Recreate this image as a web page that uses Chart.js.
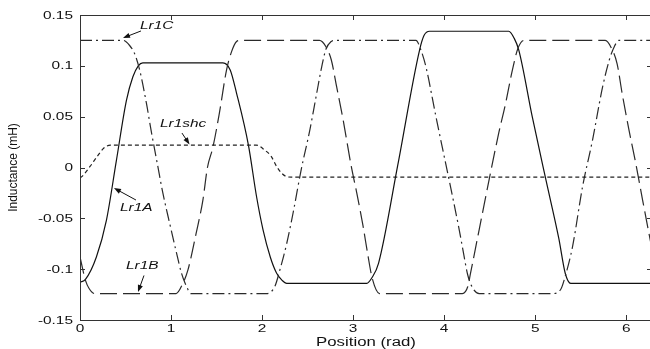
<!DOCTYPE html>
<html>
<head>
<meta charset="utf-8">
<title>Inductance vs position</title>
<script src="https://cdn.jsdelivr.net/npm/chart.js@4.4.1/dist/chart.umd.min.js"></script>
<style>
    html, body { margin: 0; padding: 0; background: #fff; overflow: hidden; }
    #wrap { position: absolute; left: 0; top: 0; width: 656px; height: 349px; }
</style>
</head>
<body>
<div id="wrap"><canvas id="chart" width="656" height="349"></canvas></div>
<script>
// Phase A inductance (solid)
const aX = [0, 0.06, 0.18, 0.29, 0.40, 0.51, 0.58, 0.64, 0.69, 1.57, 1.65, 1.72, 1.85, 1.94, 2.01, 2.09, 2.16, 2.22, 2.27,
    3.15, 3.21, 3.28, 3.49, 3.73, 3.78, 3.84, 4.71, 4.77, 4.82, 4.97, 5.12, 5.26, 5.33, 5.39, 6.2832];
const aY = [-0.113, -0.110, -0.088, -0.052, 0.007, 0.066, 0.089, 0.100, 0.103, 0.103, 0.096, 0.073, 0.022, -0.029, -0.061, -0.088, -0.104, -0.111, -0.114,
    -0.114, -0.108, -0.094, 0.002, 0.1155, 0.130, 0.134, 0.134, 0.127, 0.1155, 0.049, -0.013, -0.070, -0.104, -0.114, -0.114];

// Phase B inductance (dashed)
const bX = [0, 0.06, 0.10, 0.16, 1.055, 1.13, 1.185, 1.275, 1.35, 1.40, 1.46, 1.53, 1.61, 1.665, 1.72, 1.76,
    2.63, 2.70, 2.76, 2.82, 2.89, 2.98, 3.04, 3.11, 3.16, 3.21, 3.29, 4.20, 4.26, 4.29, 4.385, 4.60, 4.675, 4.75, 4.81, 4.875,
    5.77, 5.84, 5.90, 5.955, 6.03, 6.105, 6.18, 6.25, 6.2832];
const bY = [-0.088, -0.111, -0.119, -0.124, -0.124, -0.114, -0.101, -0.065, -0.032, 0.000, 0.020, 0.053, 0.096, 0.114, 0.124, 0.125,
    0.125, 0.119, 0.106, 0.079, 0.047, 0.001, -0.025, -0.058, -0.085, -0.109, -0.124, -0.124, -0.117, -0.104, -0.061, 0.034, 0.063, 0.096, 0.117, 0.125,
    0.125, 0.117, 0.102, 0.073, 0.037, 0.004, -0.032, -0.065, -0.080];

// Phase C inductance (dash-dot)
const cX = [0, 0.475, 0.545, 0.60, 0.655, 0.73, 0.78, 0.855, 0.91, 0.985, 1.06, 1.115, 1.17, 1.22,
    2.05, 2.14, 2.195, 2.27, 2.34, 2.43, 2.525, 2.60, 2.655, 2.70, 2.76, 2.80, 3.69, 3.745, 3.80, 3.91, 4.165, 4.20, 4.26, 4.31, 4.385,
    5.19, 5.28, 5.33, 5.41, 5.52, 5.63, 5.74, 5.815, 5.87, 5.92, 6.2832];
const cY = [0.125, 0.125, 0.120, 0.112, 0.096, 0.063, 0.037, 0.001, -0.025, -0.055, -0.084, -0.104, -0.117, -0.124,
    -0.124, -0.117, -0.101, -0.075, -0.045, -0.002, 0.037, 0.073, 0.099, 0.116, 0.124, 0.125, 0.125, 0.1155, 0.099, 0.050, -0.061, -0.078, -0.106, -0.118, -0.124,
    -0.124, -0.120, -0.107, -0.078, -0.019, 0.027, 0.079, 0.106, 0.119, 0.125, 0.125];

// Short-circuit winding inductance (short dashes)
const sX = [0, 0.02, 0.11, 0.19, 0.26, 0.335, 1.935, 2.03, 2.10, 2.16, 2.22, 2.27, 2.32, 6.2832];
const sY = [-0.010, -0.009, 0.001, 0.011, 0.019, 0.022, 0.022, 0.017, 0.011, 0.001, -0.006, -0.009, -0.0095, -0.0095];

// Axis ticks
const xTicks = [0, 1, 2, 3, 4, 5, 6];
const xTickLabels = ['0', '1', '2', '3', '4', '5', '6'];
const yTicks = [0.15, 0.1, 0.05, 0, -0.05, -0.1, -0.15];
const yTickLabels = ['0.15', '0.1', '0.05', '0', '-0.05', '-0.1', '-0.15'];

// Curve labels with arrows, in data units
const notes = [
    { text: 'Lr1C',   at: [0.659, 0.1397],  tail: [0.67, 0.1343],  tip: [0.472, 0.1274] },
    { text: 'Lr1shc', at: [0.879, 0.0433],  tail: [1.12, 0.0339],  tip: [1.203, 0.0226] },
    { text: 'Lr1A',   at: [0.439, -0.0393], tail: [0.615, -0.032], tip: [0.373, -0.0202] },
    { text: 'Lr1B',   at: [0.505, -0.0964], tail: [0.703, -0.1062], tip: [0.637, -0.1225] }
];

const STRETCH = 1.4;   // lettering is set wide
const INK = '#111';

const zip = (xs, ys) => xs.map((x, i) => ({ x, y: ys[i] }));

// draw horizontally widened text
function wideText(ctx, text, x, y, align) {
    ctx.save();
    ctx.translate(x, y);
    ctx.scale(STRETCH, 1);
    ctx.textAlign = align;
    ctx.fillText(text, 0, 0);
    ctx.restore();
}

function arrow(ctx, x0, y0, x1, y1) {
    const ang = Math.atan2(y1 - y0, x1 - x0);
    const len = 7, half = 2.6;
    ctx.beginPath();
    ctx.moveTo(x0, y0);
    ctx.lineTo(x1 - Math.cos(ang) * len * 0.8, y1 - Math.sin(ang) * len * 0.8);
    ctx.stroke();
    ctx.beginPath();
    ctx.moveTo(x1, y1);
    ctx.lineTo(x1 - Math.cos(ang) * len - Math.sin(ang) * half, y1 - Math.sin(ang) * len + Math.cos(ang) * half);
    ctx.lineTo(x1 - Math.cos(ang) * len + Math.sin(ang) * half, y1 - Math.sin(ang) * len - Math.cos(ang) * half);
    ctx.closePath();
    ctx.fill();
}

// box, inward ticks, tick labels, axis titles and curve labels
const axesBox = {
    id: 'axesBox',
    afterDraw(chart) {
        const { ctx, chartArea: a, scales: { x, y } } = chart;
        ctx.save();

        ctx.strokeStyle = '#333';
        ctx.lineWidth = 1;
        ctx.strokeRect(a.left + 0.5, a.top + 0.5, a.right - a.left, a.bottom - a.top);
        ctx.beginPath();
        xTicks.forEach(v => {
            const px = Math.round(x.getPixelForValue(v)) + 0.5;
            ctx.moveTo(px, a.bottom); ctx.lineTo(px, a.bottom - 5);
            ctx.moveTo(px, a.top); ctx.lineTo(px, a.top + 5);
        });
        yTicks.forEach(v => {
            const py = Math.round(y.getPixelForValue(v)) + 0.5;
            ctx.moveTo(a.left, py); ctx.lineTo(a.left + 5, py);
            ctx.moveTo(a.right, py); ctx.lineTo(a.right - 5, py);
        });
        ctx.stroke();

        ctx.fillStyle = INK;
        ctx.textBaseline = 'middle';
        ctx.font = '11px "Liberation Sans", Arial, sans-serif';
        xTicks.forEach((v, i) => wideText(ctx, xTickLabels[i], x.getPixelForValue(v), a.bottom + 9, 'center'));
        yTicks.forEach((v, i) => wideText(ctx, yTickLabels[i], a.left - 7, y.getPixelForValue(v) + 0.5, 'right'));

        ctx.font = '12px "Liberation Sans", Arial, sans-serif';
        wideText(ctx, 'Position (rad)', (a.left + a.right) / 2, 343, 'center');
        ctx.save();
        ctx.translate(14, (a.top + a.bottom) / 2);
        ctx.rotate(-Math.PI / 2);
        ctx.textAlign = 'center';
        ctx.fillText('Inductance (mH)', 0, 0);
        ctx.restore();

        ctx.font = 'italic 11px "Liberation Sans", Arial, sans-serif';
        ctx.strokeStyle = INK;
        notes.forEach(n => {
            wideText(ctx, n.text, x.getPixelForValue(n.at[0]), y.getPixelForValue(n.at[1]), 'left');
            arrow(ctx,
                x.getPixelForValue(n.tail[0]), y.getPixelForValue(n.tail[1]),
                x.getPixelForValue(n.tip[0]), y.getPixelForValue(n.tip[1]));
        });

        ctx.restore();
    }
};

function series(label, xs, ys, color, dash) {
    return {
        label,
        data: zip(xs, ys),
        borderColor: color,
        borderWidth: 1.2,
        borderDash: dash,
        pointRadius: 0,
        cubicInterpolationMode: 'monotone',
        fill: false
    };
}

new Chart(document.getElementById('chart'), {
    type: 'line',
    data: {
        datasets: [
            series('Lr1shc', sX, sY, '#222', [4, 3]),
            series('Lr1C', cX, cY, '#2a2a2a', [12, 4, 2, 4]),
            series('Lr1B', bX, bY, '#2a2a2a', [17, 6]),
            series('Lr1A', aX, aY, '#111', [])
        ]
    },
    options: {
        responsive: false,
        animation: false,
        devicePixelRatio: 1,
        layout: { padding: { left: 0, right: 4, top: 15, bottom: 0 } },
        plugins: { legend: { display: false }, tooltip: { enabled: false } },
        scales: {
            x: {
                type: 'linear',
                min: 0,
                max: 2 * Math.PI,
                grid: { display: false },
                border: { display: false },
                ticks: { display: false },
                afterFit: s => { s.height = 29; }
            },
            y: {
                min: -0.15,
                max: 0.15,
                grid: { display: false },
                border: { display: false },
                ticks: { display: false },
                afterFit: s => { s.width = 80; }
            }
        }
    },
    plugins: [axesBox]
});
</script>
</body>
</html>
